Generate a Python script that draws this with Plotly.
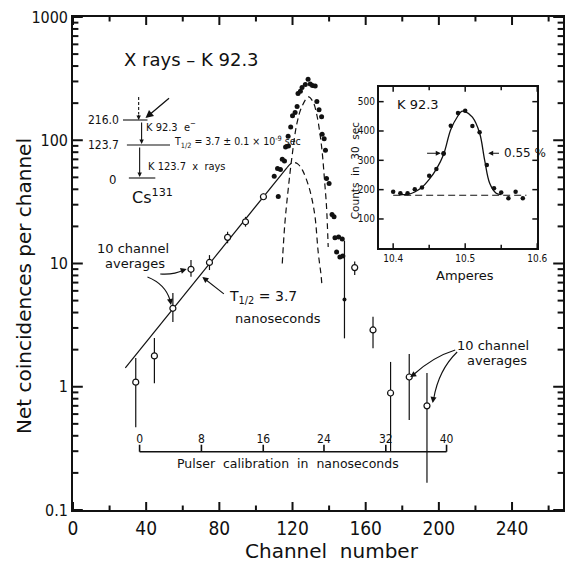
import math
import plotly.graph_objects as go

# ---------------- data ----------------
# 10-channel averages (open circles) with error limits
avg_channel = [34.3, 44.5, 54.6, 64.5, 74.6, 84.5, 94.3, 104.1, 154.0, 164.0, 173.6, 183.8, 193.5]
avg_counts = [1.09, 1.78, 4.33, 8.97, 10.2, 16.3, 21.8, 34.8, 9.26, 2.89, 0.89, 1.20, 0.70]
avg_upper = [1.71, 2.49, 5.77, 10.7, 11.7, 18.1, 23.9, 36.9, 10.4, 3.70, 1.59, 1.84, 1.29]
avg_lower = [0.47, 1.07, 3.35, 7.8, 8.85, 14.6, 19.9, 32.8, 8.05, 2.05, 0.296, 0.537, 0.166]

# single-channel coincidences near the prompt peak (solid dots)
peak_channel = [110.0, 111.8, 113.4, 112.2, 114.4, 115.6, 116.2, 117.8, 117.6, 119.0,
                120.0, 121.4, 122.5, 123.0, 124.3, 125.2, 127.0, 128.5, 129.7, 130.9,
                132.4, 133.3, 134.5, 135.9, 136.2, 137.3, 138.0, 138.6, 140.0, 141.6,
                142.7, 143.2, 145.2, 147.2, 144.1, 145.9, 147.5]
peak_counts = [51, 59, 58, 35, 70, 68, 88, 90, 108, 128,
               158, 168, 188, 240, 250, 268, 284, 312, 286, 278,
               276, 206, 177, 155, 112, 103, 83, 49, 44.5, 25,
               24, 16.2, 16.4, 15.8, 12.4, 11.3, 11.5]

# isolated channel with error bar
tail_channel = [148.4]
tail_counts = [5.1]
tail_upper = [15.3]
tail_lower = [2.47]

# exponential fit, T1/2 = 3.7 ns
fit_channel = [28.6, 117.0]
fit_counts = [1.42, 60.0]

# delayed component (small dashed curve)
delayed_channel = [117.0, 119.0, 120.7, 123.0, 125.5, 128.7, 130.5, 132.3, 134.1, 135.5, 136.0]
delayed_counts = [60.0, 64.5, 66.0, 64.0, 57.0, 43.0, 34.0, 24.0, 12.1, 8.3, 6.9]

# prompt component (large dashed curve)
prompt_channel = [114.4, 115.8, 117.6, 119.7, 122.4, 125.1, 128.7, 131.2, 133.2, 135.8, 137.7, 138.6, 139.5]
prompt_counts = [10.0, 21.0, 39.5, 73.5, 137, 187, 225, 205, 163, 91.5, 43.4, 28.7, 13.6]

# pulser calibration scale: nanoseconds and the channel each mark sits at
pulser_ns = [0, 8, 16, 24, 32, 40]
pulser_channel = [36.4, 70.2, 104.0, 137.2, 171.0, 204.2]
pulser_level = 0.297

# main axis ticks
channel_ticks = [0, 40, 80, 120, 160, 200, 240]
channel_minor = [20, 60, 100, 140, 180, 220, 260]
count_ticks = [0.1, 1, 10, 100, 1000]
count_labels = ["0.1", "1", "10", "100", "1000"]
count_minor = [m * d for d in (0.1, 1, 10, 100) for m in range(2, 10)]

# inset: K 92.3 conversion line
amp_points = [10.40, 10.41, 10.42, 10.43, 10.44, 10.45, 10.46, 10.47, 10.47, 10.48,
              10.49, 10.50, 10.51, 10.52, 10.53, 10.54, 10.55, 10.56, 10.57, 10.58]
amp_counts = [193, 188, 188, 201, 207, 247, 270, 322, 324, 418,
              461, 469, 417, 396, 284, 205, 190, 171, 193, 171]
amp_curve = [10.41, 10.42, 10.43, 10.44, 10.45, 10.46, 10.47, 10.48, 10.49, 10.495,
             10.50, 10.51, 10.52, 10.527, 10.534, 10.543, 10.55]
amp_curve_counts = [183, 184, 192, 208, 235, 270, 320, 405, 452, 467,
                    466, 447, 393, 301, 222, 188, 183]
amp_baseline = [10.40, 10.585]
baseline_counts = [181, 181]
amp_ticks = [10.4, 10.5, 10.6]
amp_minor = [10.45, 10.55]
inset_count_ticks = [100, 200, 300, 400, 500]

# ---------------- geometry ----------------
L, R, T, B = 73, 2, 17, 52
FW, FH = 575, 562
PW, PH = FW - L - R, FH - T - B
X_RANGE = [0, 267.86]
Y_RANGE = [-1, 3]
AMP_RANGE = [10.38, 10.6]
INSET_Y_RANGE = [0, 551]


def px(x, y):
    """pixel position -> paper coordinates"""
    return (x - L) / PW, (FH - B - y) / PH


NARROW = "Liberation Sans Narrow, DejaVu Sans Condensed, Arial Narrow, sans-serif"
ROUND = "DejaVu Sans, Verdana, sans-serif"
INK = "#111111"

ix0, iy0 = px(385, 248.3)
ix1, iy1 = px(546.7, 86.7)

fig = go.Figure()

# exponential fit line
fig.add_trace(go.Scatter(x=fit_channel, y=fit_counts, mode="lines",
                         line=dict(color=INK, width=1.2), hoverinfo="skip"))
# delayed and prompt components
fig.add_trace(go.Scatter(x=delayed_channel, y=delayed_counts, mode="lines",
                         line=dict(color=INK, width=1.2, dash="6px,4px", shape="spline"),
                         hoverinfo="skip"))
fig.add_trace(go.Scatter(x=prompt_channel, y=prompt_counts, mode="lines",
                         line=dict(color=INK, width=1.2, dash="6px,4px", shape="spline"),
                         hoverinfo="skip"))

# solid dots
fig.add_trace(go.Scatter(x=peak_channel, y=peak_counts, mode="markers",
                         marker=dict(color=INK, size=5)))
fig.add_trace(go.Scatter(
    x=tail_channel, y=tail_counts, mode="markers",
    marker=dict(color=INK, size=4),
    error_y=dict(type="data", symmetric=False,
                 array=[u - v for u, v in zip(tail_upper, tail_counts)],
                 arrayminus=[v - l for v, l in zip(tail_counts, tail_lower)],
                 color=INK, thickness=1.2, width=0)))

# 10-channel averages
fig.add_trace(go.Scatter(
    x=avg_channel, y=avg_counts, mode="markers",
    marker=dict(color="white", size=6, line=dict(color=INK, width=1.2)),
    error_y=dict(type="data", symmetric=False,
                 array=[u - v for u, v in zip(avg_upper, avg_counts)],
                 arrayminus=[v - l for v, l in zip(avg_counts, avg_lower)],
                 color=INK, thickness=1.2, width=0)))

# pulser calibration scale
fig.add_trace(go.Scatter(x=[pulser_channel[0], pulser_channel[-1]],
                         y=[pulser_level, pulser_level], mode="lines",
                         line=dict(color=INK, width=1.4), hoverinfo="skip"))
tick_x, tick_y = [], []
for c in pulser_channel:
    tick_x += [c, c, None]
    tick_y += [pulser_level, pulser_level * 1.14, None]
fig.add_trace(go.Scatter(x=tick_x, y=tick_y, mode="lines",
                         line=dict(color=INK, width=1.6), hoverinfo="skip"))
fig.add_trace(go.Scatter(x=pulser_channel, y=[pulser_level * 1.25] * len(pulser_channel),
                         mode="text", text=[str(v) for v in pulser_ns],
                         textfont=dict(family=NARROW, size=12, color=INK),
                         textposition="middle center", hoverinfo="skip"))

# inset traces
fig.add_trace(go.Scatter(x=amp_baseline, y=baseline_counts, mode="lines",
                         line=dict(color=INK, width=1.1, dash="7px,4px"),
                         xaxis="x2", yaxis="y2", hoverinfo="skip"))
fig.add_trace(go.Scatter(x=amp_curve, y=amp_curve_counts, mode="lines",
                         line=dict(color=INK, width=1.3, shape="spline"),
                         xaxis="x2", yaxis="y2", hoverinfo="skip"))
fig.add_trace(go.Scatter(x=amp_points, y=amp_counts, mode="markers",
                         marker=dict(color=INK, size=4.5),
                         xaxis="x2", yaxis="y2"))

# ---------------- annotations & shapes ----------------
ann = []
shapes = []


def text(x, y, s, size=12, anchor="left", family=ROUND, angle=0):
    xp, yp = px(x, y)
    ann.append(dict(x=xp, y=yp, xref="paper", yref="paper", text=s, showarrow=False,
                    xanchor=anchor, yanchor="middle", textangle=angle,
                    font=dict(family=family, size=size, color=INK)))


def arrow(hx, hy, tx, ty, width=1.1, head=2, size=1.0):
    xp, yp = px(hx, hy)
    ann.append(dict(x=xp, y=yp, xref="paper", yref="paper", text="", showarrow=True,
                    ax=tx - hx, ay=ty - hy, arrowhead=head, arrowsize=size,
                    arrowwidth=width, arrowcolor=INK))


def seg_paper(a, b, c, d, dash="solid", width=1.1):
    shapes.append(dict(type="line", xref="paper", yref="paper", x0=a, y0=b, x1=c, y1=d,
                       line=dict(color=INK, width=width, dash=dash)))


def seg(x0, y0, x1, y1, dash="solid", width=1.1):
    a, b = px(x0, y0)
    c, d = px(x1, y1)
    seg_paper(a, b, c, d, dash, width)


def curve(x0, y0, cx, cy, x1, y1, width=1.1):
    a, b = px(x0, y0)
    c, d = px(cx, cy)
    e, f = px(x1, y1)
    shapes.append(dict(type="path", xref="paper", yref="paper",
                       path=f"M {a} {b} Q {c} {d} {e} {f}",
                       line=dict(color=INK, width=width)))


# tick marks drawn inward on all four sides of both frames
def xticks(values, to_paper, y_bottom, y_top, length, width=2.0):
    for v in values:
        xp = to_paper(v)
        seg_paper(xp, y_bottom, xp, y_bottom + length / PH, width=width)
        seg_paper(xp, y_top, xp, y_top - length / PH, width=width)


def yticks(values, to_paper, x_left, x_right, length, width=2.0):
    for v in values:
        yp = to_paper(v)
        seg_paper(x_left, yp, x_left + length / PW, yp, width=width)
        seg_paper(x_right, yp, x_right - length / PW, yp, width=width)


main_x = lambda v: (v - X_RANGE[0]) / (X_RANGE[1] - X_RANGE[0])
main_y = lambda v: (math.log10(v) - Y_RANGE[0]) / (Y_RANGE[1] - Y_RANGE[0])
inset_x = lambda v: ix0 + (v - AMP_RANGE[0]) / (AMP_RANGE[1] - AMP_RANGE[0]) * (ix1 - ix0)
inset_y = lambda v: iy0 + (v - INSET_Y_RANGE[0]) / (INSET_Y_RANGE[1] - INSET_Y_RANGE[0]) * (iy1 - iy0)

xticks(channel_ticks, main_x, 0, 1, 8)
xticks(channel_minor, main_x, 0, 1, 4.5)
yticks(count_ticks, main_y, 0, 1, 10)
yticks(count_minor, main_y, 0, 1, 5.5)
xticks(amp_ticks, inset_x, iy0, iy1, 5, width=1.5)
xticks(amp_minor, inset_x, iy0, iy1, 3.5, width=1.5)
yticks(inset_count_ticks, inset_y, ix0, ix1, 5, width=1.5)

# axis titles
text(23, 286, "Net coincidences per channel", size=20, anchor="center", angle=-90)
text(337, 551, "Channel  number", size=20, anchor="center")

# heading
text(194, 60, "X rays – K 92.3", size=18, anchor="center")

# decay scheme
text(122, 120, "216.0", size=12, anchor="right", family=NARROW)
text(122, 145, "123.7", size=12, anchor="right", family=NARROW)
text(119, 179, "0", size=13, anchor="right", family=NARROW)
seg(124, 120, 149, 120)
seg(128, 145, 172, 145)
seg(130, 178, 157, 178)
seg(140, 97, 140, 114, dash="3px,2px")
arrow(140, 120, 140, 113, head=2, size=0.8)
arrow(143, 144, 143, 121, head=2, size=0.8)
arrow(141, 177, 141, 146, head=2, size=0.8)
arrow(147, 118, 172, 97, head=2, size=1.2, width=1.3)
text(145, 127, "K 92.3  e<sup>−</sup>", size=11, family=NARROW)
text(174, 142, "T<sub>1/2</sub> = 3.7 ± 0.1 × 10<sup>-9</sup> sec", size=10.5, family=NARROW)
text(147, 166, "K 123.7  x  rays", size=11, family=NARROW)
text(131, 196, "Cs<sup>131</sup>", size=16)

# left "10 channel averages"
text(134, 248, "10 channel", size=13, anchor="center")
text(136, 263, "averages", size=13, anchor="center")
curve(162, 274, 176, 275, 186, 270)
arrow(189, 269, 183, 271, head=2, size=1.1)
curve(149, 277, 167, 284, 172, 300)
arrow(173, 305, 172, 299, head=2, size=1.1)

# half-life label
text(230, 297, "T<sub>1/2</sub> = 3.7", size=14)
text(236, 318, "nanoseconds", size=13)
arrow(205, 277, 228, 295, head=2, size=1.1)

# right "10 channel averages"
text(502, 345, "10 channel", size=13, anchor="center")
text(506, 360, "averages", size=13, anchor="center")
curve(463, 350, 440, 357, 420, 375)
arrow(417, 377, 423, 373, head=2, size=1.1)
curve(465, 352, 446, 370, 441, 399)
arrow(440, 403, 441, 396, head=2, size=1.1)

# pulser caption
text(292, 463, "Pulser  calibration  in  nanoseconds", size=12.5, anchor="center")

# inset labels
text(361, 170, "Counts  in  30  sec", size=10.5, anchor="center", angle=-90)
text(473, 275, "Amperes", size=13, anchor="center")
ann.append(dict(x=10.402, y=490, xref="x2", yref="y2", text="K 92.3", showarrow=False,
                xanchor="left", yanchor="middle",
                font=dict(family=ROUND, size=13, color=INK)))
ann.append(dict(x=10.466, y=324, xref="x2", yref="y2", text="", showarrow=True,
                ax=10.445, ay=324, axref="x2", ayref="y2",
                arrowhead=2, arrowsize=0.9, arrowwidth=1.1, arrowcolor=INK))
ann.append(dict(x=10.532, y=324, xref="x2", yref="y2", text="", showarrow=True,
                ax=10.549, ay=324, axref="x2", ayref="y2",
                arrowhead=2, arrowsize=0.9, arrowwidth=1.1, arrowcolor=INK))
ann.append(dict(x=10.551, y=324, xref="x2", yref="y2", text="0.55 %", showarrow=False,
                xanchor="left", yanchor="middle",
                font=dict(family=ROUND, size=12, color=INK)))

# ---------------- layout ----------------
axis_common = dict(showline=True, linecolor=INK, linewidth=1.6, mirror=True,
                   ticks="", showgrid=False, zeroline=False)

fig.update_layout(
    width=FW, height=FH,
    margin=dict(l=L, r=R, t=T, b=B),
    paper_bgcolor="white", plot_bgcolor="white",
    showlegend=False,
    xaxis=dict(range=X_RANGE, tickmode="array", tickvals=channel_ticks,
               tickfont=dict(family=NARROW, size=19, color=INK),
               **axis_common),
    yaxis=dict(type="log", range=Y_RANGE, tickmode="array", tickvals=count_ticks,
               ticktext=count_labels,
               tickfont=dict(family=NARROW, size=16, color=INK),
               **axis_common),
    xaxis2=dict(domain=[ix0, ix1], anchor="y2", range=AMP_RANGE,
                tickmode="array", tickvals=amp_ticks, ticktext=["10.4", "10.5", "10.6"],
                tickfont=dict(family=NARROW, size=10, color=INK),
                **axis_common),
    yaxis2=dict(domain=[iy0, iy1], anchor="x2", range=INSET_Y_RANGE,
                tickmode="array", tickvals=inset_count_ticks,
                tickfont=dict(family=NARROW, size=10, color=INK),
                **axis_common),
    annotations=ann,
    shapes=shapes,
)

fig.write_html("out.html")
